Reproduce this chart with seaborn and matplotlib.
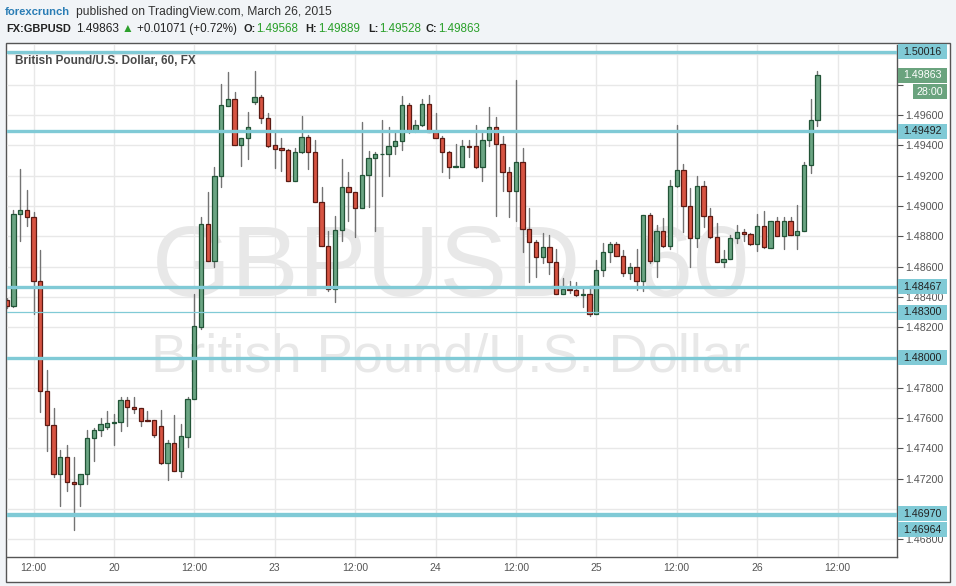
import numpy as np
import pandas as pd
import seaborn as sns
import matplotlib.pyplot as plt
from matplotlib.patches import Rectangle
from matplotlib.transforms import blended_transform_factory

# hourly GBP/USD bars; x = hours since Mar 19 00:00 with the weekend collapsed
hours = list(range(8, 130))
opens = [
    1.48380, 1.48338, 1.48947, 1.48974, 1.48930, 1.48503, 1.47778, 1.47556, 1.47233, 1.47347,
    1.47180, 1.47167, 1.47233, 1.47470, 1.47519, 1.47540, 1.47566, 1.47573, 1.47720, 1.47672,
    1.47666, 1.47588, 1.47588, 1.47551, 1.47307, 1.47434, 1.47254, 1.47478, 1.47725, 1.48204,
    1.48879, 1.48639, 1.49200, 1.49662, 1.49704, 1.49400, 1.49446, 1.49688, 1.49717, 1.49578,
    1.49400, 1.49380, 1.49369, 1.49167, 1.49354, 1.49453, 1.49354, 1.49028, 1.48738, 1.48450,
    1.48841, 1.49123, 1.49090, 1.48985, 1.49202, 1.49314, 1.49341, 1.49343, 1.49396, 1.49427,
    1.49664, 1.49497, 1.49532, 1.49673, 1.49486, 1.49446, 1.49354, 1.49255, 1.49259, 1.49396,
    1.49396, 1.49259, 1.49435, 1.49519, 1.49407, 1.49226, 1.49101, 1.49288, 1.48846, 1.48764,
    1.48661, 1.48727, 1.48628, 1.48417, 1.48450, 1.48445, 1.48413, 1.48420, 1.48289, 1.48578,
    1.48696, 1.48747, 1.48668, 1.48556, 1.48595, 1.48503, 1.48940, 1.48639, 1.48835, 1.48738,
    1.49132, 1.49237, 1.49002, 1.48787, 1.49132, 1.48936, 1.48797, 1.48628, 1.48648, 1.48787,
    1.48826, 1.48817, 1.48747, 1.48866, 1.48725, 1.48899, 1.48804, 1.48899, 1.48808, 1.48835,
    1.49270, 1.49568,
]
highs = [
    1.48390, 1.48974, 1.49244, 1.49108, 1.48958, 1.48710, 1.47919, 1.47668, 1.47391, 1.47420,
    1.47343, 1.47233, 1.47519, 1.47534, 1.47600, 1.47650, 1.47630, 1.47737, 1.47737, 1.47742,
    1.47670, 1.47650, 1.47588, 1.47653, 1.47456, 1.47621, 1.47562, 1.47742, 1.48418, 1.48929,
    1.49090, 1.49255, 1.49804, 1.49882, 1.49750, 1.49446, 1.49618, 1.49890, 1.49730, 1.49611,
    1.49490, 1.49450, 1.49375, 1.49380, 1.49593, 1.49468, 1.49435, 1.49123, 1.48835, 1.48934,
    1.49310, 1.49226, 1.49090, 1.49554, 1.49363, 1.49356, 1.49567, 1.49519, 1.49497, 1.49727,
    1.49681, 1.49567, 1.49706, 1.49732, 1.49611, 1.49461, 1.49365, 1.49409, 1.49435, 1.49435,
    1.49534, 1.49490, 1.49651, 1.49585, 1.49461, 1.49255, 1.49831, 1.49380, 1.48987, 1.48775,
    1.48820, 1.48809, 1.48714, 1.48523, 1.48505, 1.48496, 1.48457, 1.48457, 1.48644, 1.48758,
    1.48764, 1.48764, 1.48709, 1.48622, 1.48716, 1.48940, 1.48951, 1.48874, 1.48919, 1.49171,
    1.49534, 1.49277, 1.49116, 1.49198, 1.49167, 1.48989, 1.48886, 1.48709, 1.48808, 1.48874,
    1.48848, 1.48824, 1.48947, 1.48969, 1.48899, 1.48929, 1.48929, 1.48929, 1.49006, 1.49292,
    1.49706, 1.49889,
]
lows = [
    1.48330, 1.48332, 1.48771, 1.48870, 1.48288, 1.47640, 1.47382, 1.47211, 1.47020, 1.47118,
    1.46859, 1.47020, 1.47167, 1.47316, 1.47480, 1.47530, 1.47420, 1.47513, 1.47546, 1.47637,
    1.47550, 1.47580, 1.47478, 1.47298, 1.47193, 1.47254, 1.47215, 1.47412, 1.47725, 1.48190,
    1.48639, 1.48595, 1.49123, 1.49662, 1.49400, 1.49264, 1.49312, 1.49670, 1.49545, 1.49388,
    1.49252, 1.49230, 1.49167, 1.49167, 1.49347, 1.49244, 1.49028, 1.48738, 1.48441, 1.48368,
    1.48771, 1.48903, 1.48797, 1.48985, 1.48991, 1.48837, 1.49068, 1.49200, 1.49343, 1.49369,
    1.49480, 1.49490, 1.49527, 1.49486, 1.49446, 1.49226, 1.49186, 1.49255, 1.49259, 1.49325,
    1.49248, 1.49167, 1.49396, 1.48936, 1.49101, 1.48929, 1.48903, 1.48698, 1.48500, 1.48529,
    1.48622, 1.48551, 1.48417, 1.48417, 1.48428, 1.48406, 1.48335, 1.48273, 1.48286, 1.48538,
    1.48632, 1.48668, 1.48540, 1.48518, 1.48446, 1.48441, 1.48626, 1.48533, 1.48731, 1.48714,
    1.49125, 1.48830, 1.48600, 1.48727, 1.48859, 1.48787, 1.48628, 1.48595, 1.48648, 1.48758,
    1.48769, 1.48740, 1.48705, 1.48723, 1.48725, 1.48804, 1.48716, 1.48808, 1.48716, 1.48835,
    1.49220, 1.49528,
]
closes = [
    1.48340, 1.48947, 1.48974, 1.48925, 1.48503, 1.47778, 1.47556, 1.47233, 1.47347, 1.47180,
    1.47167, 1.47233, 1.47470, 1.47519, 1.47560, 1.47566, 1.47573, 1.47720, 1.47672, 1.47663,
    1.47584, 1.47584, 1.47491, 1.47307, 1.47434, 1.47254, 1.47483, 1.47725, 1.48208, 1.48881,
    1.48639, 1.49200, 1.49666, 1.49704, 1.49400, 1.49446, 1.49519, 1.49717, 1.49578, 1.49395,
    1.49378, 1.49369, 1.49167, 1.49354, 1.49453, 1.49354, 1.49028, 1.48738, 1.48450, 1.48841,
    1.49123, 1.49090, 1.48985, 1.49202, 1.49314, 1.49341, 1.49343, 1.49394, 1.49427, 1.49664,
    1.49497, 1.49532, 1.49673, 1.49486, 1.49446, 1.49354, 1.49255, 1.49264, 1.49396, 1.49391,
    1.49255, 1.49435, 1.49519, 1.49407, 1.49226, 1.49101, 1.49288, 1.48846, 1.48764, 1.48661,
    1.48727, 1.48628, 1.48417, 1.48450, 1.48445, 1.48413, 1.48420, 1.48289, 1.48578, 1.48696,
    1.48747, 1.48668, 1.48556, 1.48595, 1.48503, 1.48940, 1.48639, 1.48835, 1.48738, 1.49132,
    1.49237, 1.49002, 1.48787, 1.49132, 1.48936, 1.48797, 1.48628, 1.48648, 1.48787, 1.48826,
    1.48817, 1.48747, 1.48866, 1.48727, 1.48899, 1.48804, 1.48899, 1.48808, 1.48835, 1.49270,
    1.49567, 1.49863,
]

tick_hours = [12, 24, 36, 48, 60, 72, 84, 96, 108, 120, 132]
tick_labels = ["12:00", "20", "12:00", "23", "12:00", "24", "12:00", "25", "12:00", "26", "12:00"]
# price grid; some labels sit under the level boxes and are left out
price_ticks = [1.468, 1.470, 1.472, 1.474, 1.476, 1.478, 1.480, 1.482, 1.484,
               1.486, 1.488, 1.490, 1.492, 1.494, 1.496, 1.498, 1.500]
hidden_ticks = [1.470, 1.480, 1.498, 1.500]

# horizontal levels drawn on the chart
levels = [1.50016, 1.49492, 1.48467, 1.48300, 1.48000, 1.46970, 1.46964]
level_labels = ["1.50016", "1.49492", "1.48467", "1.48300", "1.48000", "1.46970", "1.46964"]
level_thick = [True, True, True, False, True, True, True]

last_price = 1.49863
countdown = "28:00"

GREEN, GREEN_EDGE = "#6ba583", "#225437"
RED, RED_EDGE = "#d75442", "#5b1a13"
CYAN = "#80cad6"
W, H = 956, 586

sns.set_style("white")
plt.rcParams["font.family"] = ["Liberation Sans", "DejaVu Sans"]

df = pd.DataFrame({"hour": hours, "open": opens, "high": highs, "low": lows, "close": closes})
df["up"] = df["close"] >= df["open"]
df["bar"] = np.arange(len(df))


def fx(px):
    return px / W


def fy(py):
    return 1 - py / H


fig = plt.figure(figsize=(W / 100, H / 100), dpi=100, facecolor="#f1f4f7")
fig.add_artist(Rectangle((fx(6), fy(582)), fx(950) - fx(6), fy(43) - fy(582),
                         transform=fig.transFigure, facecolor="white",
                         edgecolor="#555555", lw=1, zorder=0))

ax = fig.add_axes([fx(7), fy(557), fx(897) - fx(7), fy(45) - fy(557)])
ax.set_facecolor("none")

# watermark
ax.text(0.498, 0.56, "GBPUSD, 60", transform=ax.transAxes, ha="center", va="center",
        fontsize=73, color="#e8e8e8", zorder=1)
ax.text(0.498, 0.39, "British Pound/U.S. Dollar", transform=ax.transAxes, ha="center",
        va="center", fontsize=39, color="#e8e8e8", zorder=1)

# wicks with seaborn, one unit per bar
wicks = pd.concat([
    df[["bar", "hour", "low"]].rename(columns={"low": "price"}),
    df[["bar", "hour", "high"]].rename(columns={"high": "price"}),
])
sns.lineplot(data=wicks, x="hour", y="price", units="bar", estimator=None,
             color="#737373", lw=1, ax=ax, zorder=2)

# bodies
body_lo = np.minimum(df["open"], df["close"])
body_h = np.maximum((df["close"] - df["open"]).abs(), 0.00003)
ax.bar(df["hour"], body_h, bottom=body_lo, width=0.64,
       color=np.where(df["up"], GREEN, RED),
       edgecolor=np.where(df["up"], GREEN_EDGE, RED_EDGE), lw=0.9, zorder=3)

for p, thick in zip(levels, level_thick):
    ax.axhline(p, color=CYAN, lw=2.4 if thick else 0.9, zorder=4)

ax.set_xlim(8.04, 140.88)
ax.set_ylim(1.46684, 1.50062)
ax.set_xlabel("")
ax.set_ylabel("")
ax.set_xticks(tick_hours)
ax.set_xticklabels(tick_labels)
ax.yaxis.tick_right()
ax.set_yticks(price_ticks)
ax.set_yticklabels(["" if any(abs(p - h) < 1e-9 for h in hidden_ticks) else f"{p:.5f}"
                    for p in price_ticks])
ax.tick_params(axis="x", length=0, pad=4, labelsize=7.5, labelcolor="#555555")
ax.tick_params(axis="y", length=4, width=0.8, color="#555555", pad=2,
               labelsize=7.7, labelcolor="#555555")
ax.grid(True, color="#e8e8e8", lw=1)
ax.set_axisbelow(True)
for side in ["top", "left"]:
    ax.spines[side].set_visible(False)
for side in ["right", "bottom"]:
    ax.spines[side].set_color("#555555")
    ax.spines[side].set_linewidth(1)

ax.text(0.009, 0.969, "British Pound/U.S. Dollar, 60, FX", transform=ax.transAxes,
        ha="left", va="center", fontsize=8.5, fontweight="bold", color="#4a4a4a", zorder=6)

# price labels on the right axis
tr = blended_transform_factory(ax.transAxes, ax.transData)
px_w = 1 / 890
px_p = 1 / 15160
box_h = 15 * px_p


def axis_box(y, text, face, fg, x0=898, x1=947):
    ax.add_patch(Rectangle((1 + (x0 - 897) * px_w, y - box_h / 2), (x1 - x0) * px_w, box_h,
                           transform=tr, facecolor=face, edgecolor="none",
                           clip_on=False, zorder=7))
    ax.text(1 + ((x0 + x1) / 2 - 897) * px_w, y, text, transform=tr, ha="center",
            va="center", fontsize=7.7, color=fg, clip_on=False, zorder=8)


for p, lab in zip(levels, level_labels):
    y = p if lab != "1.46964" else p - 15 * px_p
    axis_box(y, lab, CYAN, "#222222")
axis_box(last_price, f"{last_price:.5f}", "#6aa37e", "white")
axis_box(last_price - 16.5 * px_p, countdown, "#6aa37e", "white", x0=913)

# header
fig.text(fx(5), fy(12), "forexcrunch", fontsize=8.1, fontweight="bold", color="#2a7db5",
         va="center")
fig.text(fx(76), fy(12), "published on TradingView.com, March 26, 2015", fontsize=8.7,
         color="#333333", va="center")
y2 = fy(29)
fig.text(fx(6), y2, "FX:GBPUSD", fontsize=7.9, fontweight="bold", color="#222222", va="center")
fig.text(fx(76), y2, "1.49863", fontsize=8.6, color="#222222", va="center")
fig.text(fx(122), y2, "\u25B2", fontsize=8.6, color="#2ca02c", va="center")
fig.text(fx(137), y2, "+0.01071 (+0.72%)", fontsize=8.4, color="#222222", va="center")
for x_lab, lab, x_val, val in [(243, "O:", 256, "1.49568"), (305, "H:", 318, "1.49889"),
                               (368, "L:", 379, "1.49528"), (425, "C:", 438, "1.49863")]:
    fig.text(fx(x_lab), y2, lab, fontsize=7.9, fontweight="bold", color="#222222", va="center")
    fig.text(fx(x_val), y2, val, fontsize=8.4, color="#2aa02a", va="center")

fig.savefig("out.png", dpi=100, facecolor=fig.get_facecolor())
